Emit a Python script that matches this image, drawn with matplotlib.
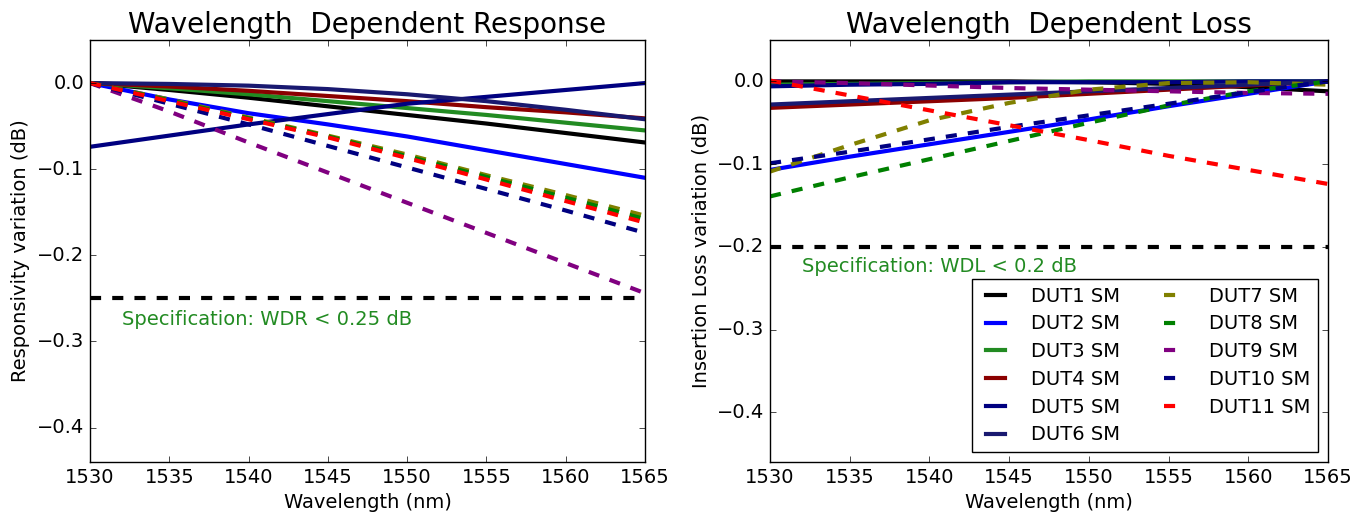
import matplotlib
matplotlib.use('Agg')
import matplotlib.pyplot as plt
from matplotlib.ticker import ScalarFormatter

wavelength = [1530, 1535, 1540, 1545, 1550, 1555, 1560, 1565]

labels = ['DUT1 SM', 'DUT2 SM', 'DUT3 SM', 'DUT4 SM', 'DUT5 SM', 'DUT6 SM',
          'DUT7 SM', 'DUT8 SM', 'DUT9 SM', 'DUT10 SM', 'DUT11 SM']

# responsivity variation (dB)
wdr = [
    [0, -0.008, -0.017, -0.027, -0.037, -0.047, -0.058, -0.069],
    [0, -0.019, -0.035, -0.048, -0.062, -0.078, -0.094, -0.110],
    [0, -0.006, -0.013, -0.021, -0.029, -0.037, -0.046, -0.055],
    [0, -0.004, -0.009, -0.015, -0.021, -0.028, -0.034, -0.041],
    [-0.074, -0.061, -0.048, -0.036, -0.024, -0.016, -0.008, 0.0],
    [0, -0.001, -0.003, -0.007, -0.013, -0.021, -0.031, -0.042],
    [0, -0.019, -0.040, -0.061, -0.083, -0.107, -0.130, -0.154],
    [0, -0.020, -0.041, -0.062, -0.085, -0.109, -0.133, -0.158],
    [0, -0.033, -0.069, -0.104, -0.139, -0.174, -0.209, -0.244],
    [0, -0.024, -0.048, -0.073, -0.098, -0.123, -0.148, -0.174],
    [0, -0.021, -0.042, -0.063, -0.087, -0.112, -0.137, -0.162],
]

# insertion loss variation (dB)
wdl = [
    [0, 0, 0, 0, -0.001, -0.003, -0.007, -0.012],
    [-0.107, -0.091, -0.076, -0.061, -0.046, -0.030, -0.015, 0.0],
    [-0.004, -0.003, -0.002, -0.001, 0, 0, 0, 0],
    [-0.032, -0.028, -0.024, -0.020, -0.015, -0.010, -0.005, 0.0],
    [-0.006, -0.004, -0.003, -0.001, -0.001, -0.001, 0, 0],
    [-0.028, -0.024, -0.020, -0.016, -0.012, -0.008, -0.004, 0.0],
    [-0.109, -0.077, -0.047, -0.026, -0.010, -0.002, -0.001, -0.004],
    [-0.139, -0.116, -0.094, -0.072, -0.050, -0.029, -0.012, 0.0],
    [0, -0.002, -0.005, -0.008, -0.010, -0.012, -0.014, -0.015],
    [-0.099, -0.085, -0.070, -0.055, -0.041, -0.027, -0.013, 0.0],
    [0.001, -0.017, -0.035, -0.053, -0.071, -0.090, -0.107, -0.124],
]

colors = ['black', 'blue', 'forestgreen', 'darkred', 'navy', 'midnightblue',
          'olive', 'green', 'purple', 'navy', 'red']
solid = [True] * 6 + [False] * 5

plt.style.use('classic')
plt.rcParams['font.size'] = 14
plt.rcParams['lines.scale_dashes'] = False
plt.rcParams['axes.unicode_minus'] = True
plt.rcParams['figure.facecolor'] = 'white'

fig = plt.figure(figsize=(13.68, 5.17), dpi=100)
ax1 = fig.add_axes([0.0658, 0.1064, 0.4057, 0.8162])
ax2 = fig.add_axes([0.5629, 0.1064, 0.4079, 0.8162])


def draw(ax, data):
    for i, ys in enumerate(data):
        if solid[i]:
            ax.plot(wavelength, ys, color=colors[i], lw=3, label=labels[i])
        else:
            ax.plot(wavelength, ys, color=colors[i], lw=3, dashes=(8, 8), label=labels[i])


draw(ax1, wdr)
ax1.axhline(-0.25, color='k', lw=3, dashes=(8, 8))
ax1.text(1532, -0.274, 'Specification: WDR < 0.25 dB', color='forestgreen',
         fontsize=14, va='center')
ax1.set_xlim(1530, 1565)
ax1.set_ylim(-0.44, 0.05)
ax1.set_yticks([0.0, -0.1, -0.2, -0.3, -0.4])
ax1.set_title('Wavelength  Dependent Response', fontsize=20)
ax1.set_xlabel('Wavelength (nm)')
ax1.set_ylabel('Responsivity variation (dB)')

draw(ax2, wdl)
ax2.axhline(-0.2, color='k', lw=3, dashes=(8, 8))
ax2.text(1532, -0.224, 'Specification: WDL < 0.2 dB', color='forestgreen',
         fontsize=14, va='center')
ax2.set_xlim(1530, 1565)
ax2.set_ylim(-0.46, 0.05)
ax2.set_yticks([0.0, -0.1, -0.2, -0.3, -0.4])
ax2.set_title('Wavelength  Dependent Loss', fontsize=20)
ax2.set_xlabel('Wavelength (nm)')
ax2.set_ylabel('Insertion Loss variation (dB)')
ax2.legend(loc='lower right', ncol=2, fontsize=14, handlelength=1.6,
           handletextpad=1.0, columnspacing=2.0, labelspacing=0.45,
           borderaxespad=0.5, fancybox=False)

for ax in (ax1, ax2):
    ax.set_xticks(wavelength)
    ax.xaxis.set_major_formatter(ScalarFormatter(useOffset=False))
    ax.yaxis.set_major_formatter(ScalarFormatter(useOffset=False))

fig.savefig('out.png', dpi=100, facecolor='white')
